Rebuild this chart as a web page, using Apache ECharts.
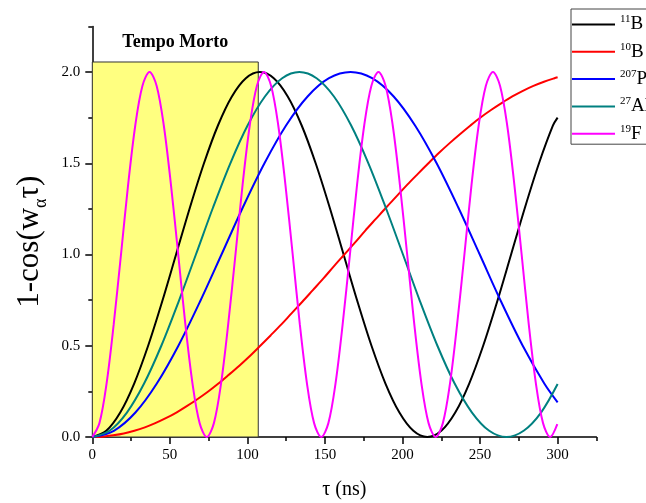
<!DOCTYPE html>
<html>
<head>
<meta charset="utf-8">
<script src="https://cdn.jsdelivr.net/npm/echarts@6/dist/echarts.min.js"></script>
<style>
  html, body { margin: 0; padding: 0; background: #fff; }
  #chart { width: 646px; height: 503px; }
</style>
</head>
<body>
<div id="chart"></div>
<script>
// 1 - cos(w_alpha * tau) for each nucleus, tau in ns
const massNumbers = ['11', '10', '207', '27', '19'];
const elements = ['B', 'B', 'Pb', 'Al', 'F'];
const colors = ['#000000', '#ff0000', '#0000ff', '#008080', '#ff00ff'];

const tauB11 = [0, 9, 18, 27, 36, 45, 54, 63, 72, 81, 90, 99, 108, 117, 126, 135, 144, 153, 162, 171, 180, 189, 198, 207, 216, 225, 234, 243, 252, 261, 270, 279, 288, 297, 300];
const valB11 = [0, 0.034, 0.134, 0.293, 0.5, 0.741, 1, 1.259, 1.5, 1.707, 1.866, 1.966, 2, 1.966, 1.866, 1.707, 1.5, 1.259, 1, 0.741, 0.5, 0.293, 0.134, 0.034, 0, 0.034, 0.134, 0.293, 0.5, 0.741, 1, 1.259, 1.5, 1.707, 1.75];

const tauB10 = [0, 6.8, 13.5, 20.3, 27.1, 33.9, 40.6, 47.4, 54.2, 60.9, 67.7, 74.5, 81.3, 88.0, 94.8, 101.6,
  108.3, 115.1, 121.9, 128.6, 135.4, 142.2, 149.0, 155.7, 162.5, 169.3, 176.0, 182.8, 189.6, 196.4, 203.1, 209.9,
  216.7, 223.4, 230.2, 237.0, 243.8, 250.5, 257.3, 264.1, 270.8, 277.6, 284.4, 291.2, 297.9, 300];
const valB10 = [0, 0.002, 0.009, 0.019, 0.034, 0.053, 0.076, 0.103, 0.134, 0.169, 0.207, 0.248, 0.293, 0.341, 0.391, 0.444,
  0.5, 0.558, 0.617, 0.679, 0.741, 0.805, 0.869, 0.935, 1, 1.065, 1.131, 1.195, 1.259, 1.321, 1.383, 1.442,
  1.5, 1.556, 1.609, 1.659, 1.707, 1.752, 1.793, 1.831, 1.866, 1.897, 1.924, 1.947, 1.966, 1.971];

const tauPb207 = [0, 13.9, 27.8, 41.6, 55.5, 69.4, 83.3, 97.1, 111.0, 124.9, 138.8, 152.6, 166.5, 180.4, 194.3, 208.1, 222.0, 235.9, 249.8, 263.6, 277.5, 291.4, 300];
const valPb207 = [0, 0.034, 0.134, 0.293, 0.5, 0.741, 1, 1.259, 1.5, 1.707, 1.866, 1.966, 2, 1.966, 1.866, 1.707, 1.5, 1.259, 1, 0.741, 0.5, 0.293, 0.19];

const tauAl27 = [0, 11.1, 22.3, 33.4, 44.5, 55.6, 66.8, 77.9, 89.0, 100.1, 111.3, 122.4, 133.5, 144.6, 155.8, 166.9, 178.0, 189.1, 200.3, 211.4, 222.5, 233.6, 244.8, 255.9, 267.0, 278.1, 289.3, 300];
const valAl27 = [0, 0.034, 0.134, 0.293, 0.5, 0.741, 1, 1.259, 1.5, 1.707, 1.866, 1.966, 2, 1.966, 1.866, 1.707, 1.5, 1.259, 1, 0.741, 0.5, 0.293, 0.134, 0.034, 0, 0.034, 0.134, 0.29];

const tauF19 = [0, 4.6, 9.2, 13.8, 18.5, 23.1, 27.7, 32.3, 36.9, 41.5, 46.1, 50.7, 55.4, 60.0, 64.6, 69.2,
  73.8, 78.4, 83.0, 87.6, 92.3, 96.9, 101.5, 106.1, 110.7, 115.3, 119.9, 124.5, 129.2, 133.8, 138.4, 143.0,
  147.6, 152.2, 156.8, 161.4, 166.1, 170.7, 175.3, 179.9, 184.5, 189.1, 193.7, 198.3, 203.0, 207.6, 212.2, 216.8,
  221.4, 226.0, 230.6, 235.2, 239.9, 244.5, 249.1, 253.7, 258.3, 262.9, 267.5, 272.1, 276.8, 281.4, 286.0, 290.6,
  295.2, 299.8];
const valF19 = [0, 0.076, 0.293, 0.617, 1, 1.383, 1.707, 1.924, 2, 1.924, 1.707, 1.383, 1, 0.617, 0.293, 0.076,
  0, 0.076, 0.293, 0.617, 1, 1.383, 1.707, 1.924, 2, 1.924, 1.707, 1.383, 1, 0.617, 0.293, 0.076,
  0, 0.076, 0.293, 0.617, 1, 1.383, 1.707, 1.924, 2, 1.924, 1.707, 1.383, 1, 0.617, 0.293, 0.076,
  0, 0.076, 0.293, 0.617, 1, 1.383, 1.707, 1.924, 2, 1.924, 1.707, 1.383, 1, 0.617, 0.293, 0.076,
  0, 0.07];

// shaded dead-time window
const deadTime = 107;
const deadTop = 2.055;
const deadLabel = 'Tempo Morto';

// axis ticks
const xTicks = [0, 50, 100, 150, 200, 250, 300];
const yTicks = [0, 0.5, 1, 1.5, 2];
const xMax = 325;
const yMax = 2.25;

const taus = [tauB11, tauB10, tauPb207, tauAl27, tauF19];
const vals = [valB11, valB10, valPb207, valAl27, valF19];
const names = massNumbers.map((m, i) => m + elements[i]);

const serif = 'Liberation Serif';

const series = names.map((name, i) => {
  const s = {
    name: name,
    type: 'line',
    xAxisIndex: 1,
    yAxisIndex: 1,
    data: taus[i].map((t, j) => [t, vals[i][j]]),
    showSymbol: false,
    symbol: 'none',
    smooth: 0.33,
    lineStyle: { color: colors[i], width: 2 },
    itemStyle: { color: colors[i] },
    z: 3
  };
  if (i === 0) {
    s.markArea = {
      silent: true,
      z: 1,
      itemStyle: { color: '#ffff80', borderColor: '#333', borderWidth: 1 },
      label: {
        show: true,
        position: 'top',
        distance: 10,
        formatter: deadLabel,
        fontFamily: serif,
        fontWeight: 'bold',
        fontSize: 18,
        color: '#000'
      },
      data: [[{ coord: [0, 0] }, { coord: [deadTime, deadTop] }]]
    };
  }
  return s;
});

const chart = echarts.init(document.getElementById('chart'), null, { renderer: 'canvas' });

const axisCommon = {
  type: 'value',
  splitLine: { show: false },
  axisLine: { show: true, onZero: false, lineStyle: { color: '#000', width: 1.5 } }
};

chart.setOption({
  animation: false,
  backgroundColor: '#fff',
  textStyle: { fontFamily: serif },
  grid: { left: 92.3, right: 49.6, top: 26.4, bottom: 66, containLabel: false, outerBoundsMode: 'none' },
  legend: {
    orient: 'vertical',
    left: 571,
    top: 9,
    data: names,
    icon: 'rect',
    itemWidth: 43,
    itemHeight: 2,
    itemGap: 6.3,
    padding: [5, 60, 0, 1],
    backgroundColor: '#fff',
    borderColor: '#444',
    borderWidth: 1,
    borderRadius: 0,
    formatter: (name) => {
      const i = names.indexOf(name);
      return '{sup|' + massNumbers[i] + '}{el|' + elements[i] + '}';
    },
    textStyle: {
      color: '#000',
      rich: {
        sup: { fontFamily: serif, fontSize: 11, lineHeight: 10, padding: [0, 0, 10, 0], color: '#000' },
        el: { fontFamily: serif, fontSize: 19, lineHeight: 20, color: '#000' }
      }
    }
  },
  xAxis: [
    Object.assign({}, axisCommon, {
      position: 'bottom',
      min: 0, max: xMax, interval: 25,
      axisTick: { show: true, inside: false, length: 4, lineStyle: { color: '#000', width: 1.5 } },
      axisLabel: { show: false }
    }),
    Object.assign({}, axisCommon, {
      position: 'bottom',
      min: 0, max: xMax, interval: 50,
      axisLine: { show: false },
      axisTick: { show: true, inside: false, length: 7, customValues: xTicks, lineStyle: { color: '#000', width: 1.5 } },
      axisLabel: {
        show: true, customValues: xTicks, margin: 11,
        fontFamily: serif, fontSize: 15, color: '#000'
      },
      name: 'τ (ns)',
      nameLocation: 'middle',
      nameGap: 43,
      nameTextStyle: { fontFamily: serif, fontSize: 20, color: '#000' }
    })
  ],
  yAxis: [
    Object.assign({}, axisCommon, {
      position: 'left',
      min: 0, max: yMax, interval: 0.25,
      axisTick: { show: true, inside: false, length: 4, lineStyle: { color: '#000', width: 1.5 } },
      axisLabel: { show: false }
    }),
    Object.assign({}, axisCommon, {
      position: 'left',
      min: 0, max: yMax, interval: 0.5,
      axisLine: { show: false },
      axisTick: { show: true, inside: false, length: 7, customValues: yTicks, lineStyle: { color: '#000', width: 1.5 } },
      axisLabel: {
        show: true, customValues: yTicks, margin: 12,
        fontFamily: serif, fontSize: 15, color: '#000',
        formatter: (v) => v.toFixed(1)
      },
      name: '{a|1-cos(w}{s|α}{a|τ)}',
      nameLocation: 'middle',
      nameGap: 39,
      nameTextStyle: {
        color: '#000',
        padding: [0, 20, 0, 0],
        rich: {
          a: { fontFamily: serif, fontSize: 31, lineHeight: 44, color: '#000' },
          s: { fontFamily: serif, fontSize: 18, lineHeight: 18, padding: [24, 0, 0, 0], color: '#000' }
        }
      }
    })
  ],
  series: series
});
</script>
</body>
</html>
